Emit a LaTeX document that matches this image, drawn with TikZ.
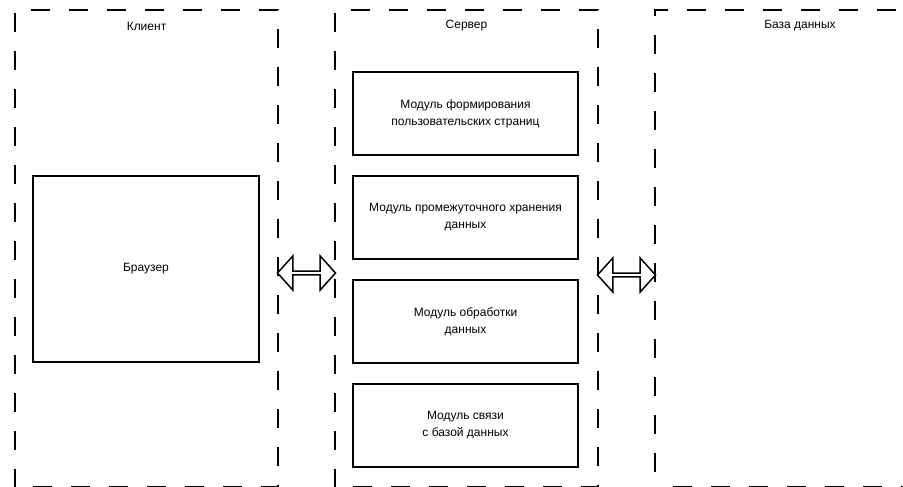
\documentclass[tikz,border=0pt]{standalone}
\usepackage{fontspec}
\setmainfont{Liberation Sans}
\usetikzlibrary{arrows,arrows.meta,positioning,shapes.arrows,calc}
\tikzset{tier/.style={
    % The shape:
    rectangle,
    inner sep=0pt,
    outer sep=0pt,
    % The size:
    minimum width=263pt,
    minimum height=477pt,
    % The border:
    line width=1.5pt,
    draw=black,
    dash pattern=on 19pt off 19pt,
    dash phase=20pt,
    },
    tiername/.style={
    font=\fontsize{12}{17}\selectfont,
    },
    module/.style={
    rectangle,
    outer sep=0pt,
    minimum width=225pt,
    minimum height=83pt,
    line width=1.5pt,
    draw=black,
    align=center,
    font=\fontsize{12}{17}\selectfont,
    },
    link/.style={
    double arrow,
    inner sep=0pt,
    outer sep=0pt,
    minimum height=58pt,
    minimum width=34pt,
    double arrow head extend=6pt,
    double arrow tip angle=96,
    line width=1.5pt,
    draw=black,
    fill=white,
    },
}

\begin{document}
\begin{tikzpicture}[x=1pt, y=-1pt, node distance = 21pt and 57pt]
    \clip (0,0) rectangle (903,487);
    \node (client)  [tier] at (146.5,248.5)          {};
    \node (server)  [tier,right=of client]           {};
    \node (dbase)   [tier,right=of server,minimum width=290pt] {};

    \node (clientname) [tiername] at ($(client.north)+(0,16)$) {Клиент};
    \node (servername) [tiername] at ($(server.north)+(0,16)$) {Сервер};
    \node (dbasename)  [tiername] at ($(dbase.north)+(0,16)$)  {База данных};

    \node (browser) [module,minimum width=226pt,minimum height=186pt] at (146,269) {Браузер};

    \node (pages)   [module] at (465.5,113.5)  {Модуль формирования\\пользовательских страниц};
    \node (buffer)  [module,below=of pages]    {Модуль промежуточного хранения\\данных};
    \node (process) [module,below=of buffer]   {Модуль обработки\\данных};
    \node (dblink)  [module,below=of process]  {Модуль связи\\с базой данных};

    \node (link1) [link] at (306.5,273) {};
    \node (link2) [link] at (626.5,275) {};
\end{tikzpicture}
\end{document}
